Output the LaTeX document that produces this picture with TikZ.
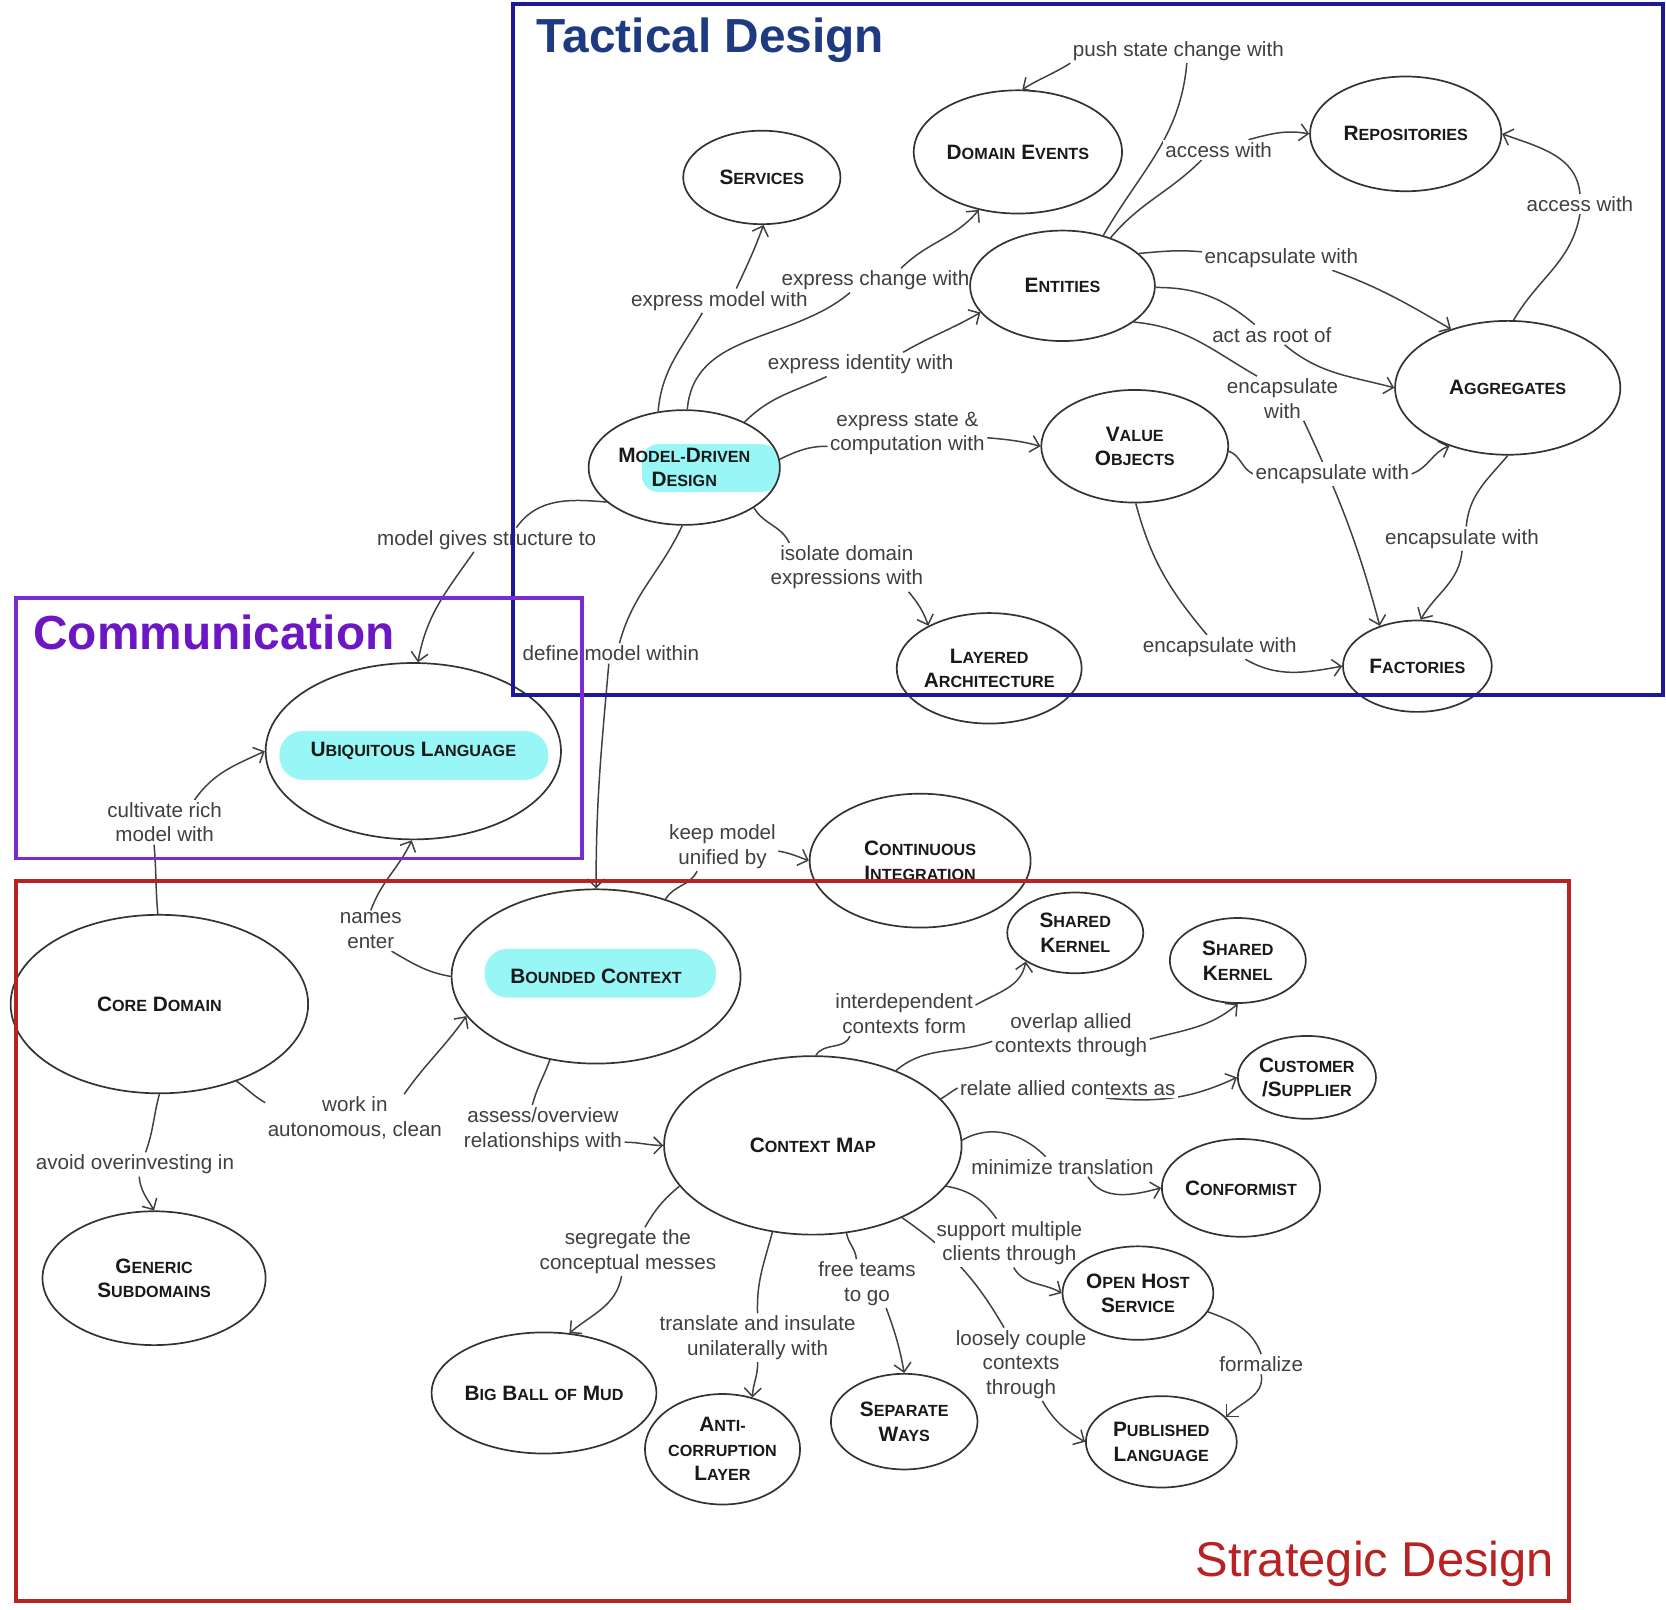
\documentclass[tikz,border=0pt]{standalone}
\usepackage{fontspec}
\setmainfont{Liberation Sans}
\usetikzlibrary{shapes.geometric,arrows.meta,backgrounds}
\definecolor{tacticalline}{RGB}{26,26,150}
\definecolor{tacticalink}{RGB}{30,58,128}
\definecolor{commline}{RGB}{122,44,208}
\definecolor{commink}{RGB}{108,22,196}
\definecolor{strategicred}{RGB}{184,34,34}
\definecolor{cyanglow}{RGB}{152,246,246}
\newcommand{\scs}{\fontsize{7.6}{9}\selectfont}
\newcommand{\sct}[2]{#1{\scs #2}}

\begin{document}
\begin{tikzpicture}[x=0.5pt,y=-0.5pt]
\tikzstyle{main}=[ellipse, draw=black!80, line width=0.8pt, inner sep=0pt, align=center, text=black!90, font=\fontsize{9.8}{11.5}\selectfont\bfseries]
\tikzstyle{tag}=[fill=white, inner sep=1pt, align=center, text=black!75, font=\fontsize{9.7}{11.5}\selectfont]
\tikzstyle{link}=[line width=0.7pt, draw=black!75]
\tikzstyle{connect}=[link, -{Straight Barb[length=4pt,width=8pt]}]
\tikzstyle{box}=[line width=1.8pt]
\tikzstyle{glow}=[fill=cyanglow, rounded corners=11pt]
\useasboundingbox (0,0) rectangle (1568,1515);

\node[tag] (ExpressModel) at (677,283) {express model with};
\node[tag] (ExpressChange) at (824,264) {express change with};
\node[tag] (ExpressIdentity) at (810,343) {express identity with};
\node[tag] (ExpressState) at (854,408) {express state \&\\computation with};
\node[tag] (IsolateDomain) at (797,534) {isolate domain\\expressions with};
\node[tag] (PushState) at (1109,48) {push state change with};
\node[tag] (AccessRepo) at (1147,141) {access with};
\node[tag] (EncapEnt) at (1206,243) {encapsulate with};
\node[tag] (ActRoot) at (1197,315) {act as root of};
\node[tag] (EncapFac) at (1207,375) {encapsulate\\with};
\node[tag] (EncapVO) at (1254,446) {encapsulate with};
\node[tag] (EncapVOFac) at (1148,609) {encapsulate with};
\node[tag] (AccessAgg) at (1487,192) {access with};
\node[tag] (EncapAgg) at (1376,507) {encapsulate with};
\node[tag] (GivesStructure) at (458,508) {model gives structure to};
\node[tag] (DefineModel) at (575,615) {define model within};
\node[tag] (Cultivate) at (155,774) {cultivate rich\\model with};
\node[tag] (NamesEnter) at (349,876) {names\\enter};
\node[tag] (WorkIn) at (334,1052) {work in\\autonomous, clean};
\node[tag] (AvoidOver) at (127,1096) {avoid overinvesting in};
\node[tag] (KeepUnified) at (680,797) {keep model\\unified by};
\node[tag] (AssessRel) at (511,1063) {assess/overview\\relationships with};
\node[tag] (Interdep) at (851,954) {interdependent\\contexts form};
\node[tag] (OverlapAllied) at (1008,974) {overlap allied\\contexts through};
\node[tag] (RelateAllied) at (1005,1024) {relate allied contexts as};
\node[tag] (MinTrans) at (1000,1098) {minimize translation};
\node[tag] (SupportMulti) at (950,1170) {support multiple\\clients through};
\node[tag] (LooselyCouple) at (961,1284) {loosely couple\\contexts\\through};
\node[tag] (Formalize) at (1187,1284) {formalize};
\node[tag] (FreeTeams) at (816,1208) {free teams\\to go};
\node[tag] (TranslateInsulate) at (713,1259) {translate and insulate\\unilaterally with};
\node[tag] (Segregate) at (591,1178) {segregate the\\conceptual messes};

\node[main, minimum width=74pt, minimum height=44pt] (Services) at (717,167) {\sct{S}{ERVICES}};
\node[main, minimum width=98pt, minimum height=58pt] (DomainEvents) at (958,143) {\sct{D}{OMAIN} \sct{E}{VENTS}};
\node[main, minimum width=90pt, minimum height=54pt] (Repositories) at (1323,126) {\sct{R}{EPOSITORIES}};
\node[main, minimum width=87pt, minimum height=52pt] (Entities) at (1000,269) {\sct{E}{NTITIES}};
\node[main, minimum width=106pt, minimum height=63pt] (Aggregates) at (1419,365) {\sct{A}{GGREGATES}};
\node[main, minimum width=90pt, minimum height=54pt] (ModelDriven) at (644,440) {\sct{M}{ODEL-}\sct{D}{RIVEN}\\\sct{D}{ESIGN}};
\node[main, minimum width=88pt, minimum height=53pt] (ValueObjects) at (1068,420) {\sct{V}{ALUE}\\\sct{O}{BJECTS}};
\node[main, minimum width=86pt, minimum height=52pt] (LayeredArch) at (931,629) {\sct{L}{AYERED}\\\sct{A}{RCHITECTURE}};
\node[main, minimum width=70pt, minimum height=43pt] (Factories) at (1334,627) {\sct{F}{ACTORIES}};
\node[main, minimum width=139pt, minimum height=83pt] (Ubiquitous) at (389,707) {\sct{U}{BIQUITOUS} \sct{L}{ANGUAGE}};
\node[main, minimum width=104pt, minimum height=63pt] (ContinuousInt) at (866,810) {\sct{C}{ONTINUOUS}\\\sct{I}{NTEGRATION}};
\node[main, minimum width=140pt, minimum height=84pt] (CoreDomain) at (150,945) {\sct{C}{ORE} \sct{D}{OMAIN}};
\node[main, minimum width=136pt, minimum height=82pt] (BoundedContext) at (561,919) {\sct{B}{OUNDED} \sct{C}{ONTEXT}};
\node[main, minimum width=64pt, minimum height=38pt] (SharedKernelA) at (1012,878) {\sct{S}{HARED}\\\sct{K}{ERNEL}};
\node[main, minimum width=64pt, minimum height=40pt] (SharedKernelB) at (1165,904) {\sct{S}{HARED}\\\sct{K}{ERNEL}};
\node[main, minimum width=65pt, minimum height=39pt] (CustomerSupplier) at (1230,1014) {\sct{C}{USTOMER}\\/\sct{S}{UPPLIER}};
\node[main, minimum width=140pt, minimum height=84pt] (ContextMap) at (765,1078) {\sct{C}{ONTEXT} \sct{M}{AP}};
\node[main, minimum width=73pt, minimum height=46pt] (Conformist) at (1168,1118) {\sct{C}{ONFORMIST}};
\node[main, minimum width=105pt, minimum height=63pt] (GenericSub) at (145,1203) {\sct{G}{ENERIC}\\\sct{S}{UBDOMAINS}};
\node[main, minimum width=71pt, minimum height=44pt] (OpenHost) at (1071,1217) {\sct{O}{PEN} \sct{H}{OST}\\\sct{S}{ERVICE}};
\node[main, minimum width=98pt, minimum height=57pt] (BigBall) at (512,1311) {\sct{B}{IG} \sct{B}{ALL} {\scs OF} \sct{M}{UD}};
\node[main, minimum width=73pt, minimum height=52pt] (AntiCorruption) at (680,1364) {\sct{A}{NTI-}\\{\scs CORRUPTION}\\\sct{L}{AYER}};
\node[main, minimum width=69pt, minimum height=45pt] (SeparateWays) at (851,1338) {\sct{S}{EPARATE}\\\sct{W}{AYS}};
\node[main, minimum width=71pt, minimum height=43pt] (PublishedLang) at (1093,1357) {\sct{P}{UBLISHED}\\\sct{L}{ANGUAGE}};

\begin{pgfonlayer}{background}
\fill[glow] (263,688) rectangle (516,734);
\fill[glow] (456,893) rectangle (674,939);
\fill[glow, rounded corners=8pt] (604,418) rectangle (733,463);
\path (ModelDriven.115) edge[link, out=85, in=-120] ([xshift=-8pt]ExpressModel.south)
      ([xshift=8pt]ExpressModel.north) edge[connect, out=65, in=-110] (Services.-88)
      (ModelDriven.87) edge[link, out=85, in=-140] ([xshift=-12pt]ExpressChange.south)
      ([xshift=12pt]ExpressChange.north) edge[connect, out=45, in=-130] (DomainEvents.-124)
      (ModelDriven.37) edge[link, out=45, in=-155] ([xshift=-16pt]ExpressIdentity.south)
      ([xshift=20pt]ExpressIdentity.north) edge[connect, out=30, in=-150] (Entities.-162)
      (ModelDriven.5) edge[link, out=25, in=180] ([yshift=-6pt]ExpressState.west)
      ([yshift=-2pt]ExpressState.east) edge[connect, out=-5, in=165] (ValueObjects.180)
      (ModelDriven.-30) edge[link, out=-60, in=115] ([xshift=10pt]IsolateDomain.north west)
      ([xshift=-8pt]IsolateDomain.south east) edge[connect, out=-50, in=110] (LayeredArch.145)
      (Entities.51) edge[link, out=60, in=-95] ([xshift=4pt]PushState.south)
      (PushState.south west) edge[connect, out=-148, in=32] (DomainEvents.86)
      (Entities.45) edge[link, out=50, in=-135] ([xshift=-8pt]AccessRepo.south)
      ([xshift=14pt]AccessRepo.north) edge[connect, out=15, in=170] (Repositories.180)
      (Entities.23) edge[link, out=5, in=175] ([yshift=3pt]EncapEnt.west)
      ([xshift=24pt]EncapEnt.south) edge[connect, out=-20, in=150] (Aggregates.134)
      (Entities.-1) edge[link, out=0, in=140] ([xshift=-8pt]ActRoot.north)
      ([xshift=6pt]ActRoot.south) edge[connect, out=-40, in=165] (Aggregates.180)
      (Entities.-27) edge[link, out=-5, in=150] ([xshift=-12pt]EncapFac.north)
      ([xshift=10pt]EncapFac.south) edge[connect, out=-65, in=105] (Factories.133)
      (ValueObjects.-3) edge[link, out=-20, in=155] (EncapVO.west)
      (EncapVO.east) edge[connect, out=20, in=-160] (Aggregates.-135)
      (ValueObjects.-89) edge[link, out=-75, in=130] ([xshift=-6pt]EncapVOFac.north)
      ([xshift=12pt]EncapVOFac.south) edge[connect, out=-30, in=-170] (Factories.180)
      (Aggregates.85) edge[link, out=60, in=-100] (AccessAgg.south)
      (AccessAgg.north) edge[connect, out=95, in=-20] (Repositories.0)
      (Aggregates.-90) edge[link, out=-130, in=85] ([xshift=2pt]EncapAgg.north)
      (EncapAgg.south) edge[connect, out=-95, in=60] (Factories.86)
      (ModelDriven.-156) edge[link, out=175, in=55] ([xshift=14pt]GivesStructure.north)
      ([xshift=-6pt]GivesStructure.south) edge[connect, out=-125, in=80] (Ubiquitous.87)
      (ModelDriven.-92) edge[link, out=-115, in=75] ([xshift=4pt]DefineModel.north)
      ([xshift=-1pt]DefineModel.south) edge[connect, out=-95, in=90] (BoundedContext.90)
      (CoreDomain.91) edge[link, out=95, in=-85] ([xshift=-5pt]Cultivate.south)
      ([xshift=14pt]Cultivate.north) edge[connect, out=55, in=-155] (Ubiquitous.180)
      (BoundedContext.180) edge[link, out=170, in=-30] ([xshift=-6pt]NamesEnter.south east)
      (NamesEnter.north) edge[connect, out=70, in=-115] (Ubiquitous.-91)
      (CoreDomain.-45) edge[link, out=-35, in=150] ([yshift=-4pt]WorkIn.north west)
      ([xshift=-19pt]WorkIn.north east) edge[connect, out=55, in=-125] (BoundedContext.-163)
      (CoreDomain.-90) edge[link, out=-105, in=70] ([xshift=5pt]AvoidOver.north)
      ([xshift=2pt]AvoidOver.south) edge[connect, out=-85, in=120] (GenericSub.90)
      (BoundedContext.48) edge[link, out=60, in=-115] ([xshift=-12pt]KeepUnified.south)
      ([yshift=-2pt]KeepUnified.east) edge[connect, out=-10, in=160] (ContinuousInt.180)
      (BoundedContext.-119) edge[link, out=-110, in=75] ([xshift=-5pt]AssessRel.north)
      ([yshift=-6pt]AssessRel.east) edge[connect, out=0, in=180] (ContextMap.180)
      (ContextMap.88) edge[link, out=60, in=-110] ([xshift=8pt]Interdep.south west)
      ([yshift=4pt]Interdep.east) edge[connect, out=30, in=-100] (SharedKernelA.-150)
      (ContextMap.42) edge[link, out=40, in=-160] ([yshift=-3pt]OverlapAllied.west)
      ([yshift=-2pt]OverlapAllied.east) edge[connect, out=15, in=-140] (SharedKernelB.-90)
      (ContextMap.20) edge[link, out=30, in=-150] (RelateAllied.west)
      ([xshift=18pt]RelateAllied.south) edge[connect, out=-5, in=-155] (CustomerSupplier.180)
      (ContextMap.2) edge[link, out=30, in=135] ([xshift=-8pt]MinTrans.north)
      ([xshift=12pt]MinTrans.south) edge[connect, out=-60, in=-165] (Conformist.180)
      (ContextMap.-17) edge[link, out=-10, in=125] ([xshift=-6pt]SupportMulti.north)
      ([xshift=2pt]SupportMulti.south) edge[connect, out=-60, in=150] (OpenHost.180)
      (ContextMap.-39) edge[link, out=-35, in=120] ([xshift=-8pt]LooselyCouple.north)
      ([xshift=10pt]LooselyCouple.south) edge[connect, out=-60, in=150] (PublishedLang.180)
      (OpenHost.-15) edge[link, out=-20, in=110] (Formalize.north)
      (Formalize.south) edge[connect, out=-80, in=45] (PublishedLang.21)
      (ContextMap.-69) edge[link, out=-80, in=95] ([xshift=-5pt]FreeTeams.north)
      ([xshift=9pt]FreeTeams.south) edge[connect, out=-70, in=100] (SeparateWays.90)
      (ContextMap.-115) edge[link, out=-105, in=92] (TranslateInsulate.north)
      (TranslateInsulate.south) edge[connect, out=-88, in=88] (AntiCorruption.60)
      (ContextMap.-163) edge[link, out=-140, in=60] ([xshift=8pt]Segregate.north)
      ([xshift=-3pt]Segregate.south) edge[connect, out=-100, in=40] (BigBall.67);
\end{pgfonlayer}

\draw[box, draw=tacticalline] (483,4) rectangle (1565,654);
\draw[box, draw=commline] (15,563) rectangle (548,808);
\draw[box, draw=strategicred] (15,829) rectangle (1477,1507);
\node[anchor=west, inner sep=0pt, text=tacticalink, font=\fontsize{22.5}{27}\selectfont\bfseries] (TacticalTitle) at (505,38) {Tactical Design};
\node[anchor=west, inner sep=0pt, text=commink, font=\fontsize{22.5}{27}\selectfont\bfseries] (CommTitle) at (31,595) {Communication};
\node[anchor=east, inner sep=0pt, text=strategicred, font=\fontsize{23}{27}\selectfont] (StrategicTitle) at (1463,1472) {Strategic Design};
\end{tikzpicture}
\end{document}
